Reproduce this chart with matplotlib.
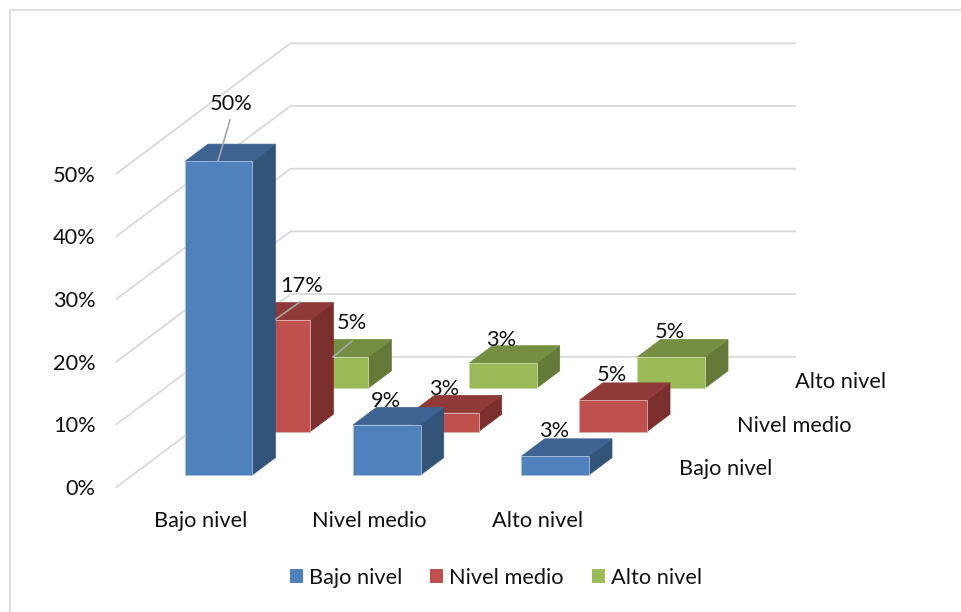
import matplotlib

matplotlib.use("Agg")
import matplotlib.pyplot as plt
from matplotlib.patches import Patch, Polygon

categories = ["Bajo nivel", "Nivel medio", "Alto nivel"]
series_names = ["Bajo nivel", "Nivel medio", "Alto nivel"]
bajo_values = [50, 8, 3]
medio_values = [17.8, 3, 5]
alto_values = [5, 4, 5]
bajo_labels = ["50%", "9%", "3%"]
medio_labels = ["17%", "3%", "5%"]
alto_labels = ["5%", "3%", "5%"]
y_ticks = [0, 10, 20, 30, 40, 50]

series_values = [bajo_values, medio_values, alto_values]
series_labels = [bajo_labels, medio_labels, alto_labels]
# front, top, side
colors = [
    ("#4F81BD", "#3C6391", "#325479"),
    ("#C0504D", "#8F3A38", "#7B2F2D"),
    ("#9BBB59", "#758E42", "#657A39"),
]
edge_colors = ["#A9C0DE", "#DDB0AE", "#C8D8A6"]

FONT = "Lato"
TEXT_SIZE = 15.7
GRID = "#D9D9D9"

# oblique projection of the excel 3d chart, pixels per unit
X0, Y0 = 116.5, 487
CAT_W, Z_H = 168.3, 6.27
DEPTH_X, DEPTH_Y = 58, 43.4


def project(cat, depth, z):
    return (X0 + cat * CAT_W + depth * DEPTH_X, Y0 - z * Z_H - depth * DEPTH_Y)


def project_bar(cat, depth, z):
    # bars sit about a pixel below the walls in the original
    px, py = project(cat, depth, z)
    return (px + 0.5, py + 1)


def draw_bar(ax, cat, depth, value, colors, edge, zorder):
    x0, x1 = cat + 0.3, cat + 0.7
    d0, d1 = depth + 0.3, depth + 0.7
    front = [project_bar(x0, d0, 0), project_bar(x1, d0, 0), project_bar(x1, d0, value), project_bar(x0, d0, value)]
    top = [project_bar(x0, d0, value), project_bar(x1, d0, value), project_bar(x1, d1, value), project_bar(x0, d1, value)]
    side = [project_bar(x1, d0, 0), project_bar(x1, d1, 0), project_bar(x1, d1, value), project_bar(x1, d0, value)]
    ax.add_patch(Polygon(side, closed=True, facecolor=colors[2], edgecolor=colors[2], linewidth=0.5, zorder=zorder))
    ax.add_patch(Polygon(top, closed=True, facecolor=colors[1], edgecolor=colors[1], linewidth=0.5, zorder=zorder))
    ax.add_patch(Polygon(front, closed=True, facecolor=colors[0], edgecolor=edge, linewidth=0.6, zorder=zorder))


fig = plt.figure(figsize=(9.62, 6.12), dpi=100)
ax = fig.add_axes([0, 0, 1, 1])
ax.set_xlim(0, 962)
ax.set_ylim(612, 0)
ax.axis("off")

# chart frame
ax.plot([10.5, 10.5, 962], [612, 9.5, 9.5], color="#D9D9D9", linewidth=1.2, zorder=1)

# walls
for tick in y_ticks:
    xs, ys = zip(project(0, 0, tick), project(0, 3, tick), project(3, 3, tick))
    ax.plot(xs, ys, color=GRID, linewidth=1.3, zorder=1, solid_joinstyle="miter")
    px, py = project(0, 0, tick)
    ax.text(px - 21, py + 2, f"{tick}%", ha="right", va="center", family=FONT, fontsize=TEXT_SIZE, color="#111111")

# back series first so the front ones cover them
zorder = 2
for depth in [2, 1, 0]:
    for cat in range(len(categories)):
        draw_bar(ax, cat, depth, series_values[depth][cat], colors[depth], edge_colors[depth], zorder)
        zorder += 1

# leader lines
leaders = [
    ((218, 161), (230, 120)),
    ((276, 319), (300, 302)),
    ((333, 357), (352, 341)),
]
for start, end in leaders:
    ax.plot([start[0], end[0]], [start[1], end[1]], color="#A6A6A6", linewidth=1.2, zorder=zorder)

# data labels, offset from the middle of the top back edge
label_offset = {
    (0, 0): (-10, -39),
    (1, 0): (-24, -5),
    (2, 0): (-24, -7),
    (0, 1): (2, -16),
    (1, 1): (-23, -5),
    (2, 1): (-24, -7),
    (0, 2): (-5, -15),
    (1, 2): (-24, -5),
    (2, 2): (-24, -6),
}
for depth in range(3):
    for cat in range(3):
        px, py = project(cat + 0.5, depth + 0.7, series_values[depth][cat])
        dx, dy = label_offset[(cat, depth)]
        ax.text(px + dx, py + dy, series_labels[depth][cat], ha="center", va="center",
                family=FONT, fontsize=TEXT_SIZE, color="#111111", zorder=zorder + 1)

# category labels along the floor
for cat, name in enumerate(categories):
    px, py = project(cat + 0.5, 0, 0)
    ax.text(px, py + 34, name, ha="center", va="center", family=FONT, fontsize=TEXT_SIZE, color="#111111")

# series labels along the right of the floor
for depth, name in enumerate(series_names):
    px, py = project(3, depth + 0.5, 0)
    ax.text(px + 29, py + 4, name, ha="left", va="center", family=FONT, fontsize=TEXT_SIZE, color="#111111")

handles = [Patch(facecolor=c[0], edgecolor="none") for c in colors]
fig.legend(
    handles,
    series_names,
    loc="center",
    bbox_to_anchor=(496 / 962, 1 - 578 / 612),
    ncol=3,
    frameon=False,
    handlelength=0.6,
    handleheight=0.6,
    handletextpad=0.27,
    columnspacing=1.27,
    prop={"family": FONT, "size": TEXT_SIZE},
    labelcolor="#111111",
)

fig.savefig("out.png", dpi=100)
